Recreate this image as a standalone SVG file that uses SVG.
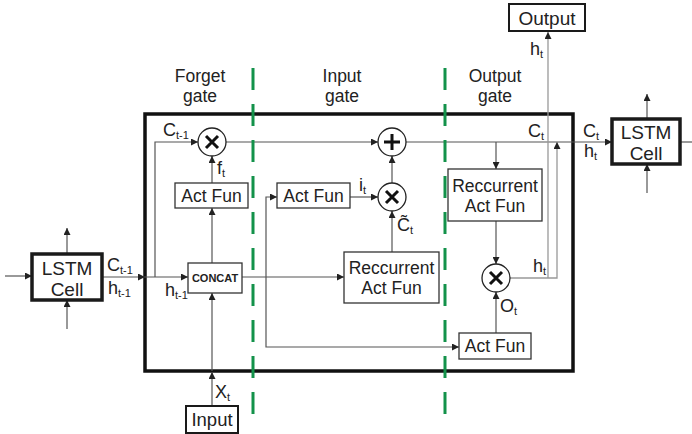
<svg xmlns="http://www.w3.org/2000/svg" width="692" height="434" viewBox="0 0 692 434">
<style>
text{font-family:"Liberation Sans",Arial,sans-serif;fill:#222}
.lbl{font-size:18px}
.sub{font-size:11px}
.gl{font-size:17.5px;text-anchor:middle}
.nt{font-size:17.5px;text-anchor:middle}
.ct{font-size:19px;text-anchor:middle}
.cell{fill:#fff;stroke:#1a1a1a;stroke-width:3.5}
.box{fill:#fff;stroke:#333;stroke-width:1.3}
.io{fill:#fff;stroke:#1a1a1a;stroke-width:2}
.op{fill:#fff;stroke:#222;stroke-width:1.3}
.sym{stroke:#111;stroke-width:3;fill:none;stroke-linecap:butt}
.c{fill:none;stroke:#555;stroke-width:1.2}
.cl{fill:none;stroke:#999;stroke-width:1.3}
.a{marker-end:url(#ah)}
.dash{stroke:#13924a;stroke-width:3;stroke-dasharray:22 14;fill:none}
</style>
<defs>
<marker id="ah" viewBox="0 0 10 10" refX="10" refY="5" markerWidth="9" markerHeight="7" markerUnits="userSpaceOnUse" orient="auto">
<path d="M0,0 L10,5 L0,10 z" fill="#222"/>
</marker>
</defs>
<rect width="692" height="434" fill="#fff"/>

<g id="main-box">
<rect x="145" y="114" width="428" height="257" fill="none" stroke="#111" stroke-width="3.5"/>
</g>

<g id="gate-labels">
<text class="gl" x="200" y="82">Forget</text>
<text class="gl" x="200" y="102">gate</text>
<text class="gl" x="342" y="82">Input</text>
<text class="gl" x="342" y="102">gate</text>
<text class="gl" x="495" y="82">Output</text>
<text class="gl" x="495" y="102">gate</text>
</g>

<g id="connectors">
<path class="c a" d="M5,276 H32"/>
<path class="c a" d="M67,254 V228"/>
<path class="c a" d="M67,329 V300"/>
<path class="c a" d="M102,277 H145"/>
<path class="c a" d="M145,277 H188"/>
<path class="c a" d="M155,277 V142 H198"/>
<path class="c a" d="M212,406 V372"/>
<path class="c a" d="M212,371 V293"/>
<path class="c a" d="M212,263 V208"/>
<path class="c a" d="M212,183 V156"/>
<path class="c a" d="M226,142 H378"/>
<path class="c a" d="M406,142 H612"/>
<path class="c" d="M680,142 H692"/>
<path class="c a" d="M647,119 V94"/>
<path class="c a" d="M647,193 V164"/>
<path class="c a" d="M242,277 H344"/>
<path class="c a" d="M266,277 V197 H277"/>
<path class="c a" d="M266,277 V347 H459"/>
<path class="c a" d="M350,197 H378"/>
<path class="c a" d="M392,252 V211"/>
<path class="c a" d="M392,183 V156"/>
<path class="c a" d="M496,142 V169"/>
<path class="c a" d="M496,221 V264"/>
<path class="c a" d="M496,333 V292"/>
<path class="cl a" d="M510,278 H557 V142"/>
<path class="cl a" d="M548,278 V32"/>
</g>

<g id="green-dividers">
<line class="dash" x1="253" y1="68" x2="253" y2="415"/>
<line class="dash" x1="445" y1="68" x2="445" y2="415"/>
</g>

<g id="lstm-cell-prev">
<rect class="cell" x="32" y="254" width="70" height="46"/>
<text class="ct" x="67" y="274.5">LSTM</text>
<text class="ct" x="67" y="295.5">Cell</text>
</g>

<g id="lstm-cell-next">
<rect class="cell" x="612" y="119" width="68" height="45"/>
<text class="ct" x="646" y="139">LSTM</text>
<text class="ct" x="646" y="160">Cell</text>
</g>

<g id="input">
<rect class="io" x="186" y="406" width="52" height="27"/>
<text x="212" y="426" font-size="18.5" text-anchor="middle">Input</text>
</g>

<g id="output">
<rect class="io" x="509" y="4" width="76" height="27"/>
<text x="547" y="25" font-size="19" text-anchor="middle">Output</text>
</g>

<g id="concat">
<rect class="box" x="188" y="263" width="54" height="30"/>
<text x="215" y="282" font-size="11" font-weight="bold" text-anchor="middle">CONCAT</text>
</g>

<g id="forget-act">
<rect class="box" x="175" y="183" width="73" height="25"/>
<text class="nt" x="211.5" y="202">Act Fun</text>
</g>

<g id="input-act">
<rect class="box" x="277" y="183" width="73" height="25"/>
<text class="nt" x="313.5" y="202">Act Fun</text>
</g>

<g id="input-rec">
<rect class="box" x="344" y="252" width="95" height="51"/>
<text class="nt" x="391.5" y="274">Reccurrent</text>
<text class="nt" x="391.5" y="294">Act Fun</text>
</g>

<g id="output-rec">
<rect class="box" x="448" y="169" width="94" height="52"/>
<text class="nt" x="495" y="192">Reccurrent</text>
<text class="nt" x="495" y="212">Act Fun</text>
</g>

<g id="output-act">
<rect class="box" x="459" y="333" width="72" height="26"/>
<text class="nt" x="495" y="352">Act Fun</text>
</g>

<g id="forget-mult">
<circle class="op" cx="212" cy="142" r="14"/>
<path class="sym" d="M206,136 L218,148 M218,136 L206,148"/>
</g>

<g id="plus">
<circle class="op" cx="392" cy="142" r="14"/>
<path class="sym" d="M392,134 V150 M384,142 H400"/>
</g>

<g id="input-mult">
<circle class="op" cx="392" cy="197" r="14"/>
<path class="sym" d="M386,191 L398,203 M398,191 L386,203"/>
</g>

<g id="output-mult">
<circle class="op" cx="496" cy="278" r="14"/>
<path class="sym" d="M490,272 L502,284 M502,272 L490,284"/>
</g>

<g id="labels">
<text class="lbl" x="107" y="271">C<tspan class="sub" dy="3">t-1</tspan></text>
<text class="lbl" x="108" y="294">h<tspan class="sub" dy="3">t-1</tspan></text>
<text class="lbl" x="163" y="136">C<tspan class="sub" dy="3">t-1</tspan></text>
<text class="lbl" x="165" y="296">h<tspan class="sub" dy="3">t-1</tspan></text>
<text class="lbl" x="217" y="174">f<tspan class="sub" dy="3">t</tspan></text>
<text class="lbl" x="215" y="398">X<tspan class="sub" dy="3">t</tspan></text>
<text class="lbl" x="359" y="191">i<tspan class="sub" dy="3">t</tspan></text>
<text class="lbl" x="397" y="231">C̃<tspan class="sub" dy="3">t</tspan></text>
<text class="lbl" x="528" y="137">C<tspan class="sub" dy="3">t</tspan></text>
<text class="lbl" x="583" y="137">C<tspan class="sub" dy="3">t</tspan></text>
<text class="lbl" x="584" y="157">h<tspan class="sub" dy="3">t</tspan></text>
<text class="lbl" x="530" y="55">h<tspan class="sub" dy="3">t</tspan></text>
<text class="lbl" x="533" y="272">h<tspan class="sub" dy="3">t</tspan></text>
<text class="lbl" x="500" y="312">O<tspan class="sub" dy="3">t</tspan></text>
</g>
</svg>
